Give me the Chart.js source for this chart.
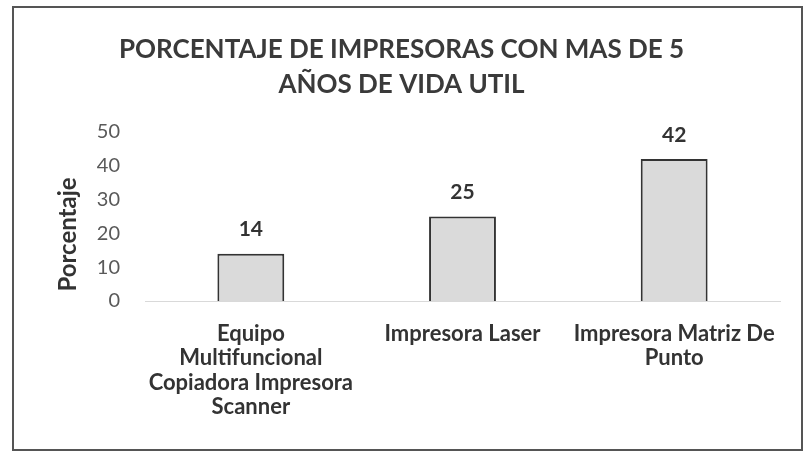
<!DOCTYPE html>
<html>
<head>
<meta charset="utf-8">
<script src="https://cdn.jsdelivr.net/npm/chart.js@4/dist/chart.umd.min.js"></script>
<style>
html,body{margin:0;padding:0;background:#fff;}
#wrap{width:803px;height:452px;position:relative;}
</style>
</head>
<body>
<div id="wrap"><canvas id="c" width="803" height="452"></canvas></div>
<script>
const categories = [
  ['Equipo', 'Multifuncional', 'Copiadora Impresora', 'Scanner'],
  ['Impresora Laser'],
  ['Impresora Matriz De', 'Punto']
];
const values = [14, 25, 42];
const yTicks = [0, 10, 20, 30, 40, 50];
const titleLines = ['PORCENTAJE DE IMPRESORAS CON MAS DE 5', 'AÑOS DE VIDA UTIL'];
const yAxisTitle = 'Porcentaje';

const FONT = 'Lato, "Open Sans", "Liberation Sans", sans-serif';

const dataLabels = {
  id: 'dataLabels',
  afterDatasetsDraw(chart) {
    const ctx = chart.ctx;
    const meta = chart.getDatasetMeta(0);
    ctx.save();
    ctx.font = 'bold 21px ' + FONT;
    ctx.fillStyle = '#333333';
    ctx.textAlign = 'center';
    ctx.textBaseline = 'middle';
    meta.data.forEach((bar, i) => {
      ctx.fillText(String(chart.data.datasets[0].data[i]), bar.x, bar.y - 24);
    });
    ctx.restore();
  }
};

const yTitle = {
  id: 'yTitle',
  afterDraw(chart) {
    const ctx = chart.ctx;
    const a = chart.chartArea;
    ctx.save();
    ctx.translate(68, (a.top + a.bottom) / 2 + 18);
    ctx.rotate(-Math.PI / 2);
    ctx.font = 'bold 24px ' + FONT;
    ctx.fillStyle = '#333333';
    ctx.textAlign = 'center';
    ctx.textBaseline = 'middle';
    ctx.fillText(yAxisTitle, 0, 0);
    ctx.restore();
  }
};

const frame = {
  id: 'frame',
  afterDraw(chart) {
    const ctx = chart.ctx;
    ctx.save();
    ctx.strokeStyle = '#555555';
    ctx.lineWidth = 2;
    ctx.strokeRect(13, 7, 789, 443);
    ctx.restore();
  }
};

new Chart(document.getElementById('c'), {
  type: 'bar',
  data: {
    labels: categories,
    datasets: [{
      data: values,
      backgroundColor: '#dadada',
      borderColor: '#333333',
      borderWidth: 2,
      borderSkipped: 'bottom',
      barPercentage: 0.316,
      categoryPercentage: 1.0
    }]
  },
  options: {
    responsive: false,
    animation: false,
    layout: { padding: { top: 7, left: 13, right: 13, bottom: 0 } },
    plugins: {
      legend: { display: false },
      tooltip: { enabled: false },
      title: {
        display: true,
        text: titleLines,
        color: '#3a3a3a',
        font: { family: FONT, size: 26, weight: 'bold', lineHeight: 1.35 },
        padding: { top: 25, bottom: 29.8 }
      }
    },
    scales: {
      x: {
        grid: { display: false, drawTicks: false },
        border: { display: true, color: '#d9d9d9', width: 1 },
        ticks: {
          color: '#333333',
          font: { family: FONT, size: 22, weight: 'bold', lineHeight: 1.1 },
          padding: 21,
          maxRotation: 0,
          autoSkip: false
        },
        afterFit(scale) { scale.height = 151; }
      },
      y: {
        min: 0,
        max: 50,
        afterBuildTicks(scale) { scale.ticks = yTicks.map(v => ({ value: v })); },
        grid: { display: false, drawTicks: false },
        border: { display: false },
        ticks: {
          color: '#595959',
          font: { family: FONT, size: 20 },
          padding: 25
        },
        afterFit(scale) { scale.width = 132; }
      },
      yRight: {
        position: 'right',
        display: true,
        grid: { display: false, drawTicks: false },
        border: { display: false },
        ticks: { display: false },
        afterFit(scale) { scale.width = 10; }
      }
    }
  },
  plugins: [dataLabels, yTitle, frame]
});
</script>
</body>
</html>
